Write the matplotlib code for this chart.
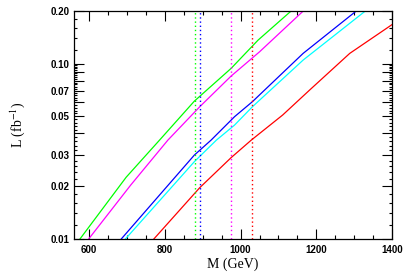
"""Luminosity needed vs mass: five channels with their mass limits (dotted)."""

import matplotlib

matplotlib.use("Agg")
import matplotlib.pyplot as plt  # noqa: E402
from matplotlib.ticker import FixedLocator, NullFormatter  # noqa: E402

# curves: mass (GeV) -> luminosity (fb^-1)
GREEN_M = [576, 698, 786, 878, 975, 1046, 1134]
GREEN_L = [0.01, 0.0225, 0.0366, 0.0611, 0.0939, 0.136, 0.2]
MAGENTA_M = [599, 710, 808, 892, 975, 1050, 1166]
MAGENTA_L = [0.01, 0.0203, 0.0366, 0.0567, 0.0849, 0.1167, 0.2]
BLUE_M = [685, 878, 922, 984, 1031, 1165, 1306]
BLUE_L = [0.01, 0.0301, 0.0366, 0.0498, 0.0606, 0.1143, 0.2]
CYAN_M = [696, 878, 936, 984, 1031, 1165, 1330]
CYAN_L = [0.01, 0.0276, 0.0366, 0.0446, 0.0567, 0.1047, 0.2]
RED_M = [771, 892, 975, 1028, 1111, 1182, 1288, 1400]
RED_L = [0.01, 0.0196, 0.0291, 0.0366, 0.0509, 0.0706, 0.1143, 0.167]

# vertical dotted mass limits
LIMIT_M = [879, 892, 974, 1030]
LIMIT_COLORS = ["#00ff00", "#0000ff", "#ff00ff", "#ff0000"]

Y_MAJOR = [0.01, 0.02, 0.03, 0.04, 0.05, 0.06, 0.07, 0.08, 0.09, 0.10, 0.20]
Y_LABELED = {0.01: "0.01", 0.02: "0.02", 0.03: "0.03", 0.05: "0.05",
             0.07: "0.07", 0.10: "0.10", 0.20: "0.20"}
X_MAJOR = [600, 800, 1000, 1200, 1400]


def main():
    plt.rcParams["mathtext.fontset"] = "stix"

    fig = plt.figure(figsize=(4.15, 2.76), dpi=100)
    ax = fig.add_axes([0.178, 0.134, 0.767, 0.827])

    curves = [
        (GREEN_M, GREEN_L, "#00ff00"),
        (MAGENTA_M, MAGENTA_L, "#ff00ff"),
        (BLUE_M, BLUE_L, "#0000ff"),
        (CYAN_M, CYAN_L, "#00ffff"),
        (RED_M, RED_L, "#ff0000"),
    ]
    for m, lum, color in curves:
        ax.plot(m, lum, color=color, linewidth=0.9)
    for m, color in zip(LIMIT_M, LIMIT_COLORS):
        ax.axvline(m, color=color, linewidth=1.0, linestyle=(0, (1, 2)))

    ax.set_yscale("log")
    ax.set_xlim(560, 1400)
    ax.set_ylim(0.01, 0.20)

    ax.yaxis.set_major_locator(FixedLocator(Y_MAJOR))
    ax.set_yticklabels([Y_LABELED.get(v, "") for v in Y_MAJOR])
    y_minor = [round(0.01 + 0.002 * i, 4) for i in range(46)]
    y_minor += [0.12, 0.14, 0.16, 0.18]
    ax.yaxis.set_minor_locator(FixedLocator(y_minor))
    ax.yaxis.set_minor_formatter(NullFormatter())

    ax.xaxis.set_major_locator(FixedLocator(X_MAJOR))
    ax.xaxis.set_minor_locator(FixedLocator(list(range(600, 1400, 50))))
    ax.set_xticklabels([str(v) for v in X_MAJOR])

    ax.tick_params(which="both", direction="in", top=True, right=True,
                   width=0.8, colors="black")
    ax.tick_params(axis="x", which="major", length=7, pad=4)
    ax.tick_params(axis="x", which="minor", length=3)
    ax.tick_params(axis="y", which="major", length=7, pad=3)
    ax.tick_params(axis="y", which="minor", length=2.2)
    for lab in ax.get_xticklabels() + ax.get_yticklabels():
        lab.set_fontfamily("Liberation Sans")
        lab.set_fontweight("bold")
        lab.set_fontsize(7)
    for sp in ax.spines.values():
        sp.set_linewidth(0.9)

    ax.set_xlabel("M (GeV)", family="Liberation Serif", fontsize=10, labelpad=2)
    ax.set_ylabel(r"L (fb$^{-1}$)", family="Liberation Serif", fontsize=10,
                  labelpad=17)

    fig.savefig("out.png", dpi=100)
    plt.close(fig)


if __name__ == "__main__":
    main()
